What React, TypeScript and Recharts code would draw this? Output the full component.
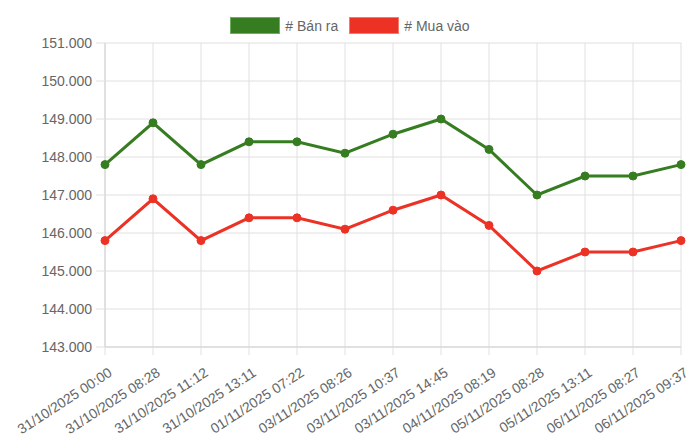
import { CartesianGrid, Legend, Line, LineChart, XAxis, YAxis } from "recharts";

const labels = [
  "31/10/2025 00:00",
  "31/10/2025 08:28",
  "31/10/2025 11:12",
  "31/10/2025 13:11",
  "01/11/2025 07:22",
  "03/11/2025 08:26",
  "03/11/2025 10:37",
  "03/11/2025 14:45",
  "04/11/2025 08:19",
  "05/11/2025 08:28",
  "05/11/2025 13:11",
  "06/11/2025 08:27",
  "06/11/2025 09:37",
];

const banRa = [
  147800, 148900, 147800, 148400, 148400, 148100, 148600, 149000, 148200,
  147000, 147500, 147500, 147800,
];

const muaVao = [
  145800, 146900, 145800, 146400, 146400, 146100, 146600, 147000, 146200,
  145000, 145500, 145500, 145800,
];

const yTicks = [143000, 144000, 145000, 146000, 147000, 148000, 149000, 150000, 151000];

const data = labels.map((label, i) => ({
  label,
  ban: banRa[i],
  mua: muaVao[i],
}));

const GREEN = "#367d22";
const RED = "#ec3225";
const GRID = "#e0e0e0";
const FONT = "'Liberation Sans', Arial, Helvetica, sans-serif";

const fmtTick = (v: number) => (v / 1000).toFixed(3);

const LegendBox = () => {
  const items = [
    { name: "# Bán ra", fill: GREEN, border: "#6fae5c" },
    { name: "# Mua vào", fill: RED, border: "#f47a70" },
  ];
  return (
    <div
      style={{
        display: "flex",
        justifyContent: "center",
        alignItems: "center",
        height: 27,
        paddingTop: 8,
        boxSizing: "border-box",
        fontFamily: FONT,
        fontSize: 14,
        color: "#666",
      }}
    >
      {items.map((it, i) => (
        <div
          key={it.name}
          style={{ display: "flex", alignItems: "center", marginLeft: i ? 11 : 0 }}
        >
          <span
            style={{
              display: "inline-block",
              width: 48,
              height: 15,
              background: it.fill,
              border: `1px solid ${it.border}`,
              marginRight: 5,
            }}
          />
          <span>{it.name}</span>
        </div>
      ))}
    </div>
  );
};

const XTick = (props: any) => {
  const { x, y, payload } = props;
  const ax = x + 6;
  const ay = y + 15;
  return (
    <text
      x={ax}
      y={ay}
      transform={`rotate(-33, ${ax}, ${ay})`}
      textAnchor="end"
      dominantBaseline="middle"
      fontFamily={FONT}
      fontSize={14}
      fill="#666"
    >
      {payload.value}
    </text>
  );
};

const App = () => {
  return (
    <LineChart
      width={684}
      height={436}
      data={data}
      margin={{ top: 8, right: 11, bottom: 0, left: 0 }}
    >
      <Legend
        verticalAlign="top"
        content={<LegendBox />}
        wrapperStyle={{ top: 0, left: 0, width: 684 }}
      />
      <CartesianGrid stroke={GRID} strokeWidth={1} />
      <XAxis
        dataKey="label"
        height={97}
        interval={0}
        tick={<XTick />}
        tickSize={8}
        tickLine={{ stroke: GRID }}
        axisLine={{ stroke: "#d2d2d2" }}
      />
      <YAxis
        width={97}
        domain={[143000, 151000]}
        ticks={yTicks}
        interval={0}
        tickFormatter={fmtTick}
        tickSize={9}
        tickMargin={4}
        tickLine={{ stroke: GRID }}
        axisLine={{ stroke: "#d2d2d2" }}
        tick={{ fontSize: 14, fill: "#666", fontFamily: FONT }}
      />
      <Line
        dataKey="ban"
        name="# Bán ra"
        stroke={GREEN}
        strokeWidth={3}
        dot={{ r: 4, fill: GREEN, stroke: GREEN, strokeWidth: 1 }}
        activeDot={false}
        isAnimationActive={false}
      />
      <Line
        dataKey="mua"
        name="# Mua vào"
        stroke={RED}
        strokeWidth={3}
        dot={{ r: 4, fill: RED, stroke: RED, strokeWidth: 1 }}
        activeDot={false}
        isAnimationActive={false}
      />
    </LineChart>
  );
};

export default App;
